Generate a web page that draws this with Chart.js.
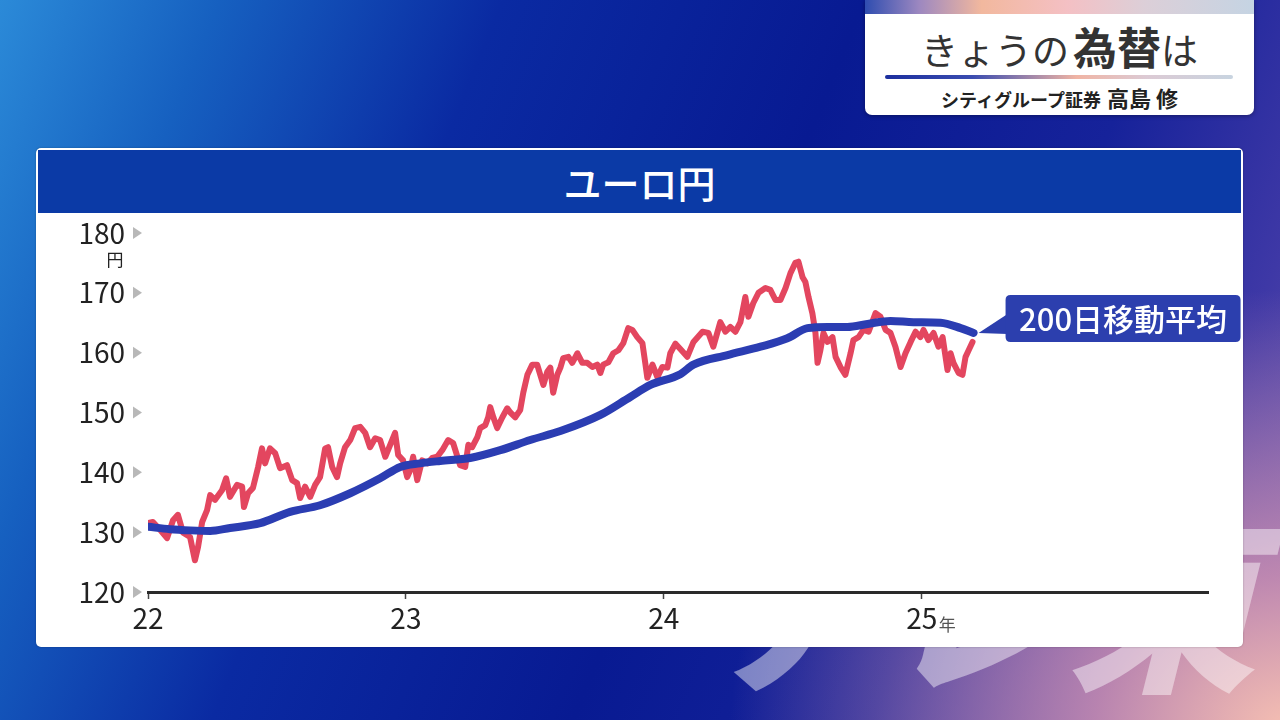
<!DOCTYPE html>
<html lang="ja">
<head>
<meta charset="utf-8">
<script src="https://cdn.jsdelivr.net/npm/chart.js@4.4.1/dist/chart.umd.min.js"></script>
<style>
html,body{margin:0;padding:0;width:1280px;height:720px;overflow:hidden;}
body{position:relative;font-family:"Noto Sans CJK JP","Noto Sans",sans-serif;
background:
 radial-gradient(ellipse 560px 440px at 1290px 730px, rgba(246,192,178,1) 0%, rgba(214,150,178,0.8) 35%, rgba(120,90,170,0) 100%),
 linear-gradient(112deg, #2b8ad8 0%, #1660c0 14%, #0a2aa2 32%, #081a92 55%, #16229a 74%, #3e38a6 88%, #6a56ae 100%);}
#wm{position:absolute;left:715px;top:500px;font-size:190px;font-weight:900;color:rgba(255,255,255,0.45);transform:skewX(-14deg);letter-spacing:-4px;white-space:nowrap;line-height:1;}
#panel{position:absolute;left:865px;top:0;width:389px;height:115px;background:#fff;border-radius:0 0 7px 7px;overflow:hidden;box-shadow:0 1px 4px rgba(0,0,0,.35);}
#panel .strip{position:absolute;left:0;top:0;width:100%;height:14px;background:linear-gradient(90deg,#2f4db0 0%,#9d88c0 14%,#f2b89e 30%,#f4c0c4 52%,#dccfd8 72%,#c5d4e3 100%);}
#panel .title{position:absolute;left:0;right:0;top:20px;text-align:center;font-size:37px;color:#333;line-height:52px;white-space:nowrap;}
#panel .title b{font-size:44px;font-weight:700;margin-left:4px;}
#panel .rule{position:absolute;left:20px;width:348px;top:75px;height:4px;border-radius:2px;background:linear-gradient(90deg,#1c2f9e 0%,#3a4cb0 25%,#f0b4a4 55%,#dccad4 75%,#c8d4e0 100%);}
#panel .sub{position:absolute;left:0;right:0;top:86px;text-align:center;font-size:18px;font-weight:700;color:#222;line-height:22px;white-space:nowrap;}
#panel .sub span{font-size:22px;margin-left:6px;}
#card{position:absolute;left:36px;top:148px;width:1207px;height:499px;background:#fff;border-radius:5px;box-shadow:0 0 2px rgba(0,0,0,.3);}
#card .head{position:absolute;left:2px;top:2px;width:1203px;height:63px;background:#0b3aa6;color:#fff;text-align:center;font-size:38px;font-weight:500;line-height:63px;}
#chart{position:absolute;left:2px;top:65px;}
</style>
</head>
<body>
<div id="wm">テレ東</div>
<div id="panel">
  <div class="strip"></div>
  <div class="title">きょうの<b>為替</b>は</div>
  <div class="rule"></div>
  <div class="sub">シティグループ証券<span>高島 修</span></div>
</div>
<div id="card">
  <div class="head">ユーロ円</div>
  <canvas id="chart" width="1203" height="432"></canvas>
</div>
<script>
// ===== Data =====
const priceDates = [
2022.000,2022.019,2022.047,2022.074,2022.097,2022.116,2022.136,2022.163,2022.182,2022.194,
2022.210,2022.229,2022.241,2022.260,2022.287,2022.303,2022.318,2022.345,2022.365,2022.372,
2022.388,2022.407,2022.427,2022.442,2022.454,2022.473,2022.493,2022.512,2022.539,2022.559,
2022.578,2022.590,2022.609,2022.629,2022.648,2022.667,2022.687,2022.698,2022.714,2022.733,
2022.745,2022.764,2022.784,2022.803,2022.823,2022.842,2022.861,2022.881,2022.900,2022.920,
2022.939,2022.958,2022.970,2022.989,2023.005,2023.017,2023.028,2023.044,2023.063,2023.083,
2023.102,2023.121,2023.141,2023.164,2023.183,2023.210,2023.230,2023.242,2023.257,2023.277,
2023.288,2023.308,2023.319,2023.327,2023.339,2023.354,2023.374,2023.393,2023.405,2023.424,
2023.443,2023.455,2023.471,2023.490,2023.509,2023.521,2023.533,2023.548,2023.560,2023.571,
2023.587,2023.599,2023.610,2023.630,2023.645,2023.665,2023.684,2023.703,2023.723,2023.742,
2023.754,2023.765,2023.785,2023.804,2023.824,2023.843,2023.862,2023.878,2023.897,2023.917,
2023.928,2023.936,2023.956,2023.975,2023.994,2024.014,2024.025,2024.045,2024.064,2024.091,
2024.115,2024.150,2024.173,2024.192,2024.219,2024.239,2024.258,2024.278,2024.297,2024.316,
2024.328,2024.347,2024.367,2024.394,2024.413,2024.433,2024.452,2024.472,2024.491,2024.510,
2024.522,2024.538,2024.549,2024.561,2024.576,2024.588,2024.596,2024.607,2024.619,2024.635,
2024.654,2024.666,2024.685,2024.704,2024.724,2024.735,2024.755,2024.774,2024.794,2024.821,
2024.840,2024.860,2024.879,2024.898,2024.918,2024.937,2024.957,2024.976,2024.995,2025.007,
2025.026,2025.046,2025.065,2025.081,2025.100,2025.112,2025.123,2025.143,2025.158,2025.170,
2025.182,2025.197
];
const priceValues = [
131.5,131.7,130.4,129.0,132.0,132.9,129.9,129.2,125.3,127.5,
131.7,133.7,136.2,135.4,137.0,139.0,135.9,137.9,137.6,134.2,
136.5,137.4,140.9,144.0,141.5,144.0,143.2,140.7,141.2,138.7,
138.2,135.7,137.6,135.9,137.9,139.2,144.0,144.2,140.9,139.2,
141.5,144.2,145.4,147.4,147.6,146.6,144.2,145.7,145.4,142.6,
144.6,146.6,142.9,142.0,139.2,140.4,142.6,138.7,142.0,141.5,
142.4,142.6,143.7,145.4,144.9,141.2,140.9,144.6,144.2,145.9,
147.4,147.9,149.2,150.9,149.2,147.4,149.2,150.7,150.0,149.2,
150.4,153.3,156.3,158.0,158.0,156.3,154.6,156.8,157.5,153.3,
156.3,157.5,159.1,159.3,158.3,159.9,158.3,158.3,157.6,158.0,
156.6,158.0,158.4,159.9,160.4,161.6,164.1,163.8,162.6,161.6,
158.3,155.8,158.0,155.9,157.6,157.5,159.9,161.5,160.6,159.3,
161.8,163.5,163.3,161.0,165.1,163.5,164.3,163.5,165.1,169.3,
166.0,168.3,170.0,170.8,170.5,168.8,168.8,170.8,173.3,175.0,
175.2,172.6,171.8,169.3,166.6,163.3,158.3,160.4,163.3,161.8,
162.6,159.3,157.6,156.3,159.9,162.1,162.6,163.8,163.5,166.6,
166.0,163.8,163.3,161.0,157.6,159.9,161.8,163.5,162.6,163.8,
162.1,163.3,161.0,162.6,157.1,159.9,158.3,156.6,156.3,159.3,
160.4,161.8
];
const maDates = [
2022.000,2022.085,2022.163,2022.241,2022.318,2022.435,2022.551,2022.667,2022.784,2022.900,
2022.978,2023.055,2023.133,2023.249,2023.366,2023.482,2023.599,2023.754,2023.870,2023.948,
2024.064,2024.115,2024.247,2024.375,2024.479,2024.557,2024.635,2024.712,2024.790,2024.879,
2024.968,2025.073,2025.151,2025.201
];
const maValues = [
130.9,130.5,130.3,130.2,130.7,131.5,133.4,134.5,136.5,139.0,
140.9,141.5,141.9,142.4,143.7,145.4,146.9,149.6,152.6,154.6,
156.4,158.0,159.6,161.0,162.4,164.1,164.3,164.3,164.8,165.3,
165.1,165.0,164.1,163.3
];
const yTicks = [120,130,140,150,160,170,180];
const xTickYears = [2022,2023,2024,2025];
const xTickLabels = ['22','23','24','25'];
const yUnit = '円';
const xUnit = '年';
const maLabel = '200日移動平均';

const FONT = '"Noto Sans CJK JP","Noto Sans",sans-serif';

const decor = {
  id: 'decor',
  afterDraw(chart) {
    const ctx = chart.ctx, ys = chart.scales.y, xs = chart.scales.x;
    ctx.save();
    ctx.fillStyle = '#b8b8b8';
    const tx = ys.right - 15;
    yTicks.forEach(v => {
      const py = ys.getPixelForValue(v);
      ctx.beginPath();
      ctx.moveTo(tx, py - 6);
      ctx.lineTo(tx + 9, py);
      ctx.lineTo(tx, py + 6);
      ctx.closePath();
      ctx.fill();
    });
    ctx.fillStyle = '#222';
    ctx.font = '17px ' + FONT;
    ctx.textAlign = 'center';
    ctx.textBaseline = 'middle';
    ctx.fillText(yUnit, ys.right - 33, ys.getPixelForValue(yTicks[yTicks.length - 1]) + 27);
    const p25 = xs.getPixelForValue(xTickYears[xTickYears.length - 1]);
    ctx.textAlign = 'left';
    ctx.fillStyle = '#555';
    ctx.font = '17px ' + FONT;
    ctx.fillText(xUnit, p25 + 17, xs.top + 33);
    const li = maDates.length - 1;
    const lx = xs.getPixelForValue(maDates[li]);
    const ly = ys.getPixelForValue(maValues[li]);
    ctx.fillStyle = '#2c3fae';
    ctx.beginPath();
    ctx.moveTo(lx + 5, ly);
    ctx.lineTo(lx + 34, ly - 19);
    ctx.lineTo(lx + 34, ly + 1);
    ctx.closePath();
    ctx.fill();
    const bx = lx + 32, by = ly - 38, bw = 235, bh = 47, r = 5;
    ctx.beginPath();
    ctx.moveTo(bx + r, by);
    ctx.lineTo(bx + bw - r, by);
    ctx.quadraticCurveTo(bx + bw, by, bx + bw, by + r);
    ctx.lineTo(bx + bw, by + bh - r);
    ctx.quadraticCurveTo(bx + bw, by + bh, bx + bw - r, by + bh);
    ctx.lineTo(bx + r, by + bh);
    ctx.quadraticCurveTo(bx, by + bh, bx, by + bh - r);
    ctx.lineTo(bx, by + r);
    ctx.quadraticCurveTo(bx, by, bx + r, by);
    ctx.closePath();
    ctx.fill();
    ctx.fillStyle = '#fff';
    ctx.font = '500 31px ' + FONT;
    ctx.textAlign = 'center';
    ctx.textBaseline = 'middle';
    ctx.fillText(maLabel, bx + bw / 2, by + bh / 2 + 1);
    ctx.restore();
  }
};

new Chart(document.getElementById('chart'), {
  type: 'line',
  data: {
    datasets: [
      {
        label: 'ユーロ円',
        data: priceDates.map((d, i) => ({ x: d, y: priceValues[i] })),
        borderColor: '#e3465f',
        borderWidth: 6,
        pointRadius: 0,
        tension: 0,
        borderJoinStyle: 'round',
        borderCapStyle: 'round',
        order: 2
      },
      {
        label: maLabel,
        data: maDates.map((d, i) => ({ x: d, y: maValues[i] })),
        borderColor: '#2b3db2',
        borderWidth: 8,
        pointRadius: 0,
        cubicInterpolationMode: 'monotone',
        borderCapStyle: 'round',
        order: 1
      }
    ]
  },
  options: {
    responsive: false,
    maintainAspectRatio: false,
    animation: false,
    devicePixelRatio: 1,
    layout: { autoPadding: false, padding: { top: 20, right: 33, left: 0, bottom: 0 } },
    plugins: { legend: { display: false }, tooltip: { enabled: false } },
    scales: {
      x: {
        type: 'linear',
        min: 2022,
        max: 2026.11,
        afterBuildTicks: s => { s.ticks = xTickYears.map(v => ({ value: v })); },
        afterFit: s => { s.height = 53; s.paddingTop = 0; s.paddingBottom = 0; s.paddingLeft = 0; s.paddingRight = 0; },
        grid: { display: true, drawOnChartArea: false, drawTicks: true, tickLength: 7, tickColor: '#444', tickWidth: 1.5 },
        border: { display: true, color: '#2a2a2a', width: 3 },
        ticks: {
          padding: 3, maxRotation: 0, autoSkip: false, color: '#222',
          font: { family: FONT, size: 28 },
          callback: v => { const i = xTickYears.indexOf(v); return i >= 0 ? xTickLabels[i] : ''; }
        }
      },
      y: {
        min: 120,
        max: 180,
        afterBuildTicks: s => { s.ticks = yTicks.map(v => ({ value: v })); },
        afterFit: s => { s.width = 110; s.paddingTop = 0; s.paddingBottom = 0; },
        grid: { display: false, drawTicks: false },
        border: { display: false },
        ticks: { padding: 23, color: '#222', font: { family: FONT, size: 28 } }
      }
    }
  },
  plugins: [decor]
});
</script>
</body>
</html>
